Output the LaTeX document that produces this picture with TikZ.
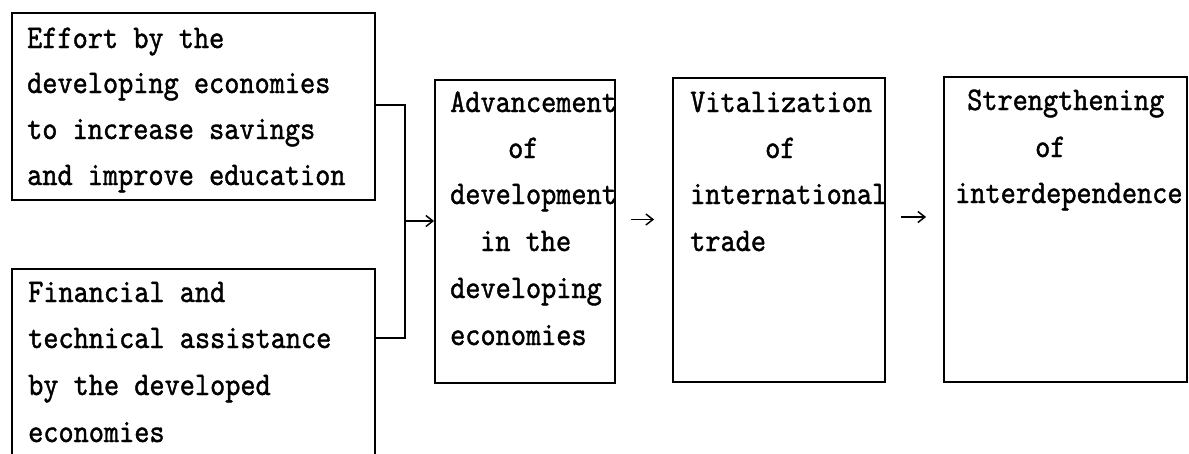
\documentclass[tikz,border=0pt]{standalone}
\usepackage{fontspec}
\usetikzlibrary{arrows.meta}
% narrow typewriter face for all labels
\newfontfamily\twfont[FakeStretch=0.875,FakeBold=1.2]{lmmono10-regular.otf}
\begin{document}
\begin{tikzpicture}[x=1pt,y=-1pt,
  box/.style={draw, line width=1.8pt, rectangle, inner sep=0pt},
  txt/.style={anchor=base west, inner sep=0pt, font=\twfont\fontsize{33}{40}\selectfont},
  link/.style={line width=1.6pt},
  tip/.style={line width=1.5pt, -{Straight Barb[length=7pt,width=11pt]}}]
\clip (0,0) rectangle (1189,453);
\useasboundingbox (0,0) rectangle (1189,453);
\fill[white] (0,0) rectangle (1189,453);

% boxes
\node[box, minimum width=363, minimum height=187] (eff) at (193.5,106.5) {};
\node[box, minimum width=363, minimum height=201] (fin) at (193.5,369.5) {};
\node[box, minimum width=180, minimum height=303] (adv) at (525,231.5) {};
\node[box, minimum width=212, minimum height=304] (vit) at (779,230) {};
\node[box, minimum width=243, minimum height=305] (str) at (1065.5,229.5) {};

% labels
\node[txt] (e1) at (27,48)  {Effort by the};
\node[txt] (e2) at (27,93)  {developing economies};
\node[txt] (e3) at (27,139) {to increase savings};
\node[txt] (e4) at (27,185) {and improve education};

\node[txt] (f1) at (28,302) {Financial and};
\node[txt] (f2) at (28,348) {technical assistance};
\node[txt] (f3) at (28,395) {by the developed};
\node[txt] (f4) at (28,442) {economies};

\node[txt] (a1) at (450,112) {Advancement};
\node[txt] (a2) at (508,158) {of};
\node[txt] (a3) at (450,204) {development};
\node[txt] (a4) at (480,251) {in the};
\node[txt] (a5) at (450,298) {developing};
\node[txt] (a6) at (450,345) {economies};

\node[txt] (v1) at (690,112) {Vitalization};
\node[txt] (v2) at (765,158) {of};
\node[txt] (v3) at (690,204) {international};
\node[txt] (v4) at (690,251) {trade};

\node[txt] (s1) at (967,110) {Strengthening};
\node[txt] (s2) at (1035,157) {of};
\node[txt] (s3) at (955,203) {interdependence};

% bracket joining the two inputs
\coordinate (jt) at (405,105);
\coordinate (jb) at (405,338);
\coordinate (jm) at (405,221);
\draw[link] (eff.east |- jt) -- (jt) -- (jb) -- (fin.east |- jb);
\draw[tip] (jm) -- (adv.west |- jm);

% chain arrows
\draw[tip, shorten <=15pt, shorten >=18pt] ([yshift=12pt]adv.east) -- ([yshift=12pt]adv.east -| vit.west);
\draw[tip, shorten <=15pt, shorten >=17pt] ([yshift=13pt]vit.east) -- ([yshift=13pt]vit.east -| str.west);
\end{tikzpicture}
\end{document}
